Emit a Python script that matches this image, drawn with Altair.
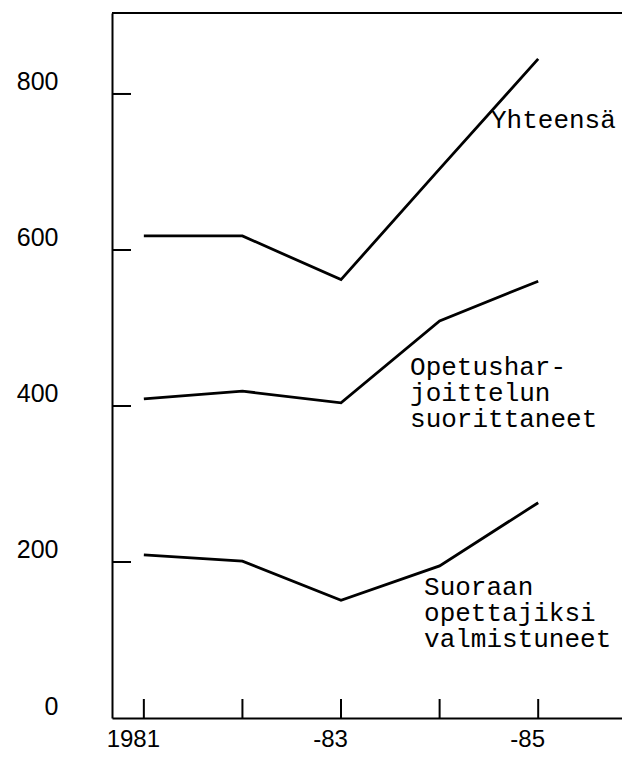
import altair as alt
import pandas as pd

# ---- data ----
years = [1981, 1982, 1983, 1984, 1985]
yhteensa = [618, 618, 562, 704, 845]
opetusharjoittelun = [409, 419, 404, 509, 560]
suoraan = [209, 201, 151, 195, 276]

series_names = ["Yhteensä", "Opetusharjoittelun suorittaneet", "Suoraan opettajiksi valmistuneet"]
series_values = [yhteensa, opetusharjoittelun, suoraan]

y_tick_values = [0, 200, 400, 600, 800]
x_tick_values = [1981, 1982, 1983, 1984, 1985]
x_tick_labels = ["1981", "", "-83", "", "-85"]

# annotation texts, anchored in data coordinates (year, value)
ann_text = ["Yhteensä", "Opetushar-\njoittelun\nsuorittaneet", "Suoraan\nopettajiksi\nvalmistuneet"]
ann_year = [1984.521, 1983.70, 1983.842]
ann_value = [756, 440, 158]

W, H = 510, 705
X_DOMAIN = [1980.677, 1985.850]
Y_DOMAIN = [0, 903.8]

rows = []
for name, vals in zip(series_names, series_values):
    for yr, v in zip(years, vals):
        rows.append({"year": yr, "value": v, "series": name})
df = pd.DataFrame(rows)

xs = alt.Scale(domain=X_DOMAIN, nice=False, zero=False)
ys = alt.Scale(domain=Y_DOMAIN, nice=False, zero=False)

label_expr = " : ".join(
    f"datum.value == {v} ? '{t}'" for v, t in zip(x_tick_values, x_tick_labels)
) + " : ''"

lines = alt.Chart(df).mark_line(color="black", strokeWidth=2.8, strokeJoin="miter").encode(
    x=alt.X("year:Q", scale=xs, axis=alt.Axis(
        values=x_tick_values, labelExpr=label_expr, ticks=False, tickSize=0, grid=False,
        domain=True, domainColor="black", domainWidth=2, labelPadding=9, labelOffset=-11,
        labelFont="Liberation Sans", labelFontSize=24, labelColor="black", title=None,
        labelFlush=False, labelOverlap=False)),
    y=alt.Y("value:Q", scale=ys, axis=alt.Axis(
        values=y_tick_values, ticks=False, tickSize=0, grid=False, domain=True,
        domainColor="black", domainWidth=2, labelPadding=54, labelOffset=-12,
        labelAlign="right", labelFont="Liberation Sans", labelFontSize=25,
        labelColor="black", title=None, labelFlush=False, labelOverlap=False)),
    detail="series:N",
)

ytick_df = pd.DataFrame({"v": [v for v in y_tick_values if v > 0]})
yticks = alt.Chart(ytick_df).mark_rule(color="black", strokeWidth=2).encode(
    y=alt.Y("v:Q", scale=ys), x=alt.value(0), x2=alt.value(19)
)

xtick_df = pd.DataFrame({"yr": x_tick_values})
xticks = alt.Chart(xtick_df).mark_rule(color="black", strokeWidth=2).encode(
    x=alt.X("yr:Q", scale=xs), y=alt.value(H - 19), y2=alt.value(H)
)

top_line = alt.Chart(pd.DataFrame({"a": [0]})).mark_rule(color="black", strokeWidth=2).encode(
    y=alt.value(0), x=alt.value(0), x2=alt.value(W)
)

ann_df = pd.DataFrame({"t": ann_text, "yr": ann_year, "v": ann_value})
ann = alt.Chart(ann_df).mark_text(
    align="left", baseline="alphabetic", font="Liberation Mono", fontSize=26,
    lineHeight=26, lineBreak="\n", color="black"
).encode(
    x=alt.X("yr:Q", scale=xs), y=alt.Y("v:Q", scale=ys), text="t:N"
)

chart = alt.layer(lines, yticks, xticks, top_line, ann).properties(
    width=W, height=H,
    autosize=alt.AutoSizeParams(type="none"),
    padding={"left": 104, "top": 5, "right": 0, "bottom": 33},
    background="white",
).configure_view(stroke=None)

chart.save("out.html", embed_options={"renderer": "svg", "actions": False})
